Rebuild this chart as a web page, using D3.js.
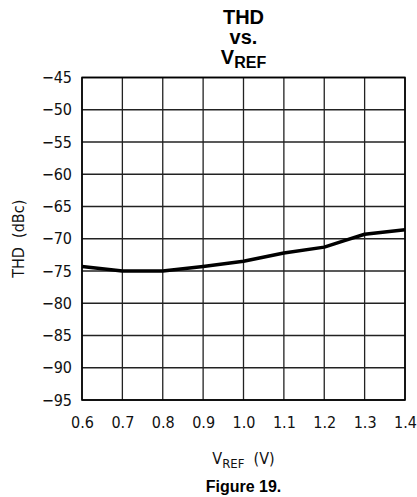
<!DOCTYPE html>
<html><head><meta charset="utf-8">
<script src="https://cdn.jsdelivr.net/npm/d3@7"></script>
<style>body{margin:0;background:#fff} text{white-space:pre}</style>
</head><body>
<script>
const vref = [0.6, 0.7, 0.8, 0.9, 1.0, 1.1, 1.2, 1.25, 1.3, 1.4];
const thd  = [-74.3, -75.0, -75.0, -74.3, -73.5, -72.2, -71.3, -70.3, -69.3, -68.6];
const xTicks = [0.6, 0.7, 0.8, 0.9, 1.0, 1.1, 1.2, 1.3, 1.4];
const yTicks = [-45, -50, -55, -60, -65, -70, -75, -80, -85, -90, -95];

const W = 417, H = 497;
const L = 82, R = 405, T = 77.5, B = 400;
const svg = d3.select("body").append("svg").attr("width", W).attr("height", H);
const x = d3.scaleLinear().domain([0.6, 1.4]).range([L, R]);
const y = d3.scaleLinear().domain([-95, -45]).range([B, T]);
const tickFont = "DejaVu Sans Condensed, DejaVu Sans";

// grid
svg.append("g").selectAll("line").data(xTicks).join("line")
  .attr("x1", d => x(d)).attr("x2", d => x(d)).attr("y1", T).attr("y2", B)
  .attr("stroke", "#222").attr("stroke-width", 1.3);
svg.append("g").selectAll("line").data(yTicks).join("line")
  .attr("y1", d => y(d)).attr("y2", d => y(d)).attr("x1", L).attr("x2", R)
  .attr("stroke", "#222").attr("stroke-width", 1.3);
svg.append("rect").attr("x", L).attr("y", T).attr("width", R - L).attr("height", B - T)
  .attr("fill", "none").attr("stroke", "#000").attr("stroke-width", 1.6);

// axes labels via d3 axes
const fmtY = d => "\u2212" + Math.abs(d);
const ya = svg.append("g").attr("transform", `translate(${L},0)`)
  .call(d3.axisLeft(y).tickValues(yTicks).tickFormat(fmtY).tickSize(0).tickPadding(10));
ya.select(".domain").remove();
ya.selectAll("text").attr("font-family", tickFont).attr("font-size", 16).attr("fill", "#111");

const xa = svg.append("g").attr("transform", `translate(0,${B})`)
  .call(d3.axisBottom(x).tickValues(xTicks).tickFormat(d3.format(".1f")).tickSize(0).tickPadding(17));
xa.select(".domain").remove();
xa.selectAll("text").attr("font-family", tickFont).attr("font-size", 16).attr("fill", "#111");

// line
svg.append("path").datum(vref.map((v, i) => [v, thd[i]]))
  .attr("d", d3.line().x(d => x(d[0])).y(d => y(d[1])))
  .attr("fill", "none").attr("stroke", "#000").attr("stroke-width", 3.5)
  .attr("stroke-linejoin", "round");

// titles
const cx = (L + R) / 2;
const tf = "Liberation Sans, Arial, sans-serif";
svg.append("text").attr("x", cx).attr("y", 24).attr("text-anchor", "middle")
  .attr("font-family", tf).attr("font-weight", "bold").attr("font-size", 20).text("THD");
svg.append("text").attr("x", cx).attr("y", 44).attr("text-anchor", "middle")
  .attr("font-family", tf).attr("font-weight", "bold").attr("font-size", 20).text("vs.");
const t3 = svg.append("text").attr("x", cx).attr("y", 64).attr("text-anchor", "middle")
  .attr("font-family", tf).attr("font-weight", "bold").attr("font-size", 20);
t3.append("tspan").text("V");
t3.append("tspan").attr("font-size", 16).attr("dy", 4).text("REF");

// y label
svg.append("text").attr("transform", `translate(24,${(T + B) / 2}) rotate(-90)`)
  .attr("text-anchor", "middle").attr("font-family", tickFont).attr("font-size", 16)
  .attr("fill", "#111").text("THD  (dBc)");

// x label
const xl = svg.append("text").attr("x", cx).attr("y", 464).attr("text-anchor", "middle")
  .attr("font-family", tickFont).attr("font-size", 16).attr("fill", "#111");
xl.append("tspan").text("V");
xl.append("tspan").attr("font-size", 13).attr("dy", 4).text("REF");
xl.append("tspan").attr("dy", -4).text("  (V)");

svg.append("text").attr("x", cx).attr("y", 492).attr("text-anchor", "middle")
  .attr("font-family", tf).attr("font-weight", "bold").attr("font-size", 16).text("Figure 19.");
</script>
</body></html>
